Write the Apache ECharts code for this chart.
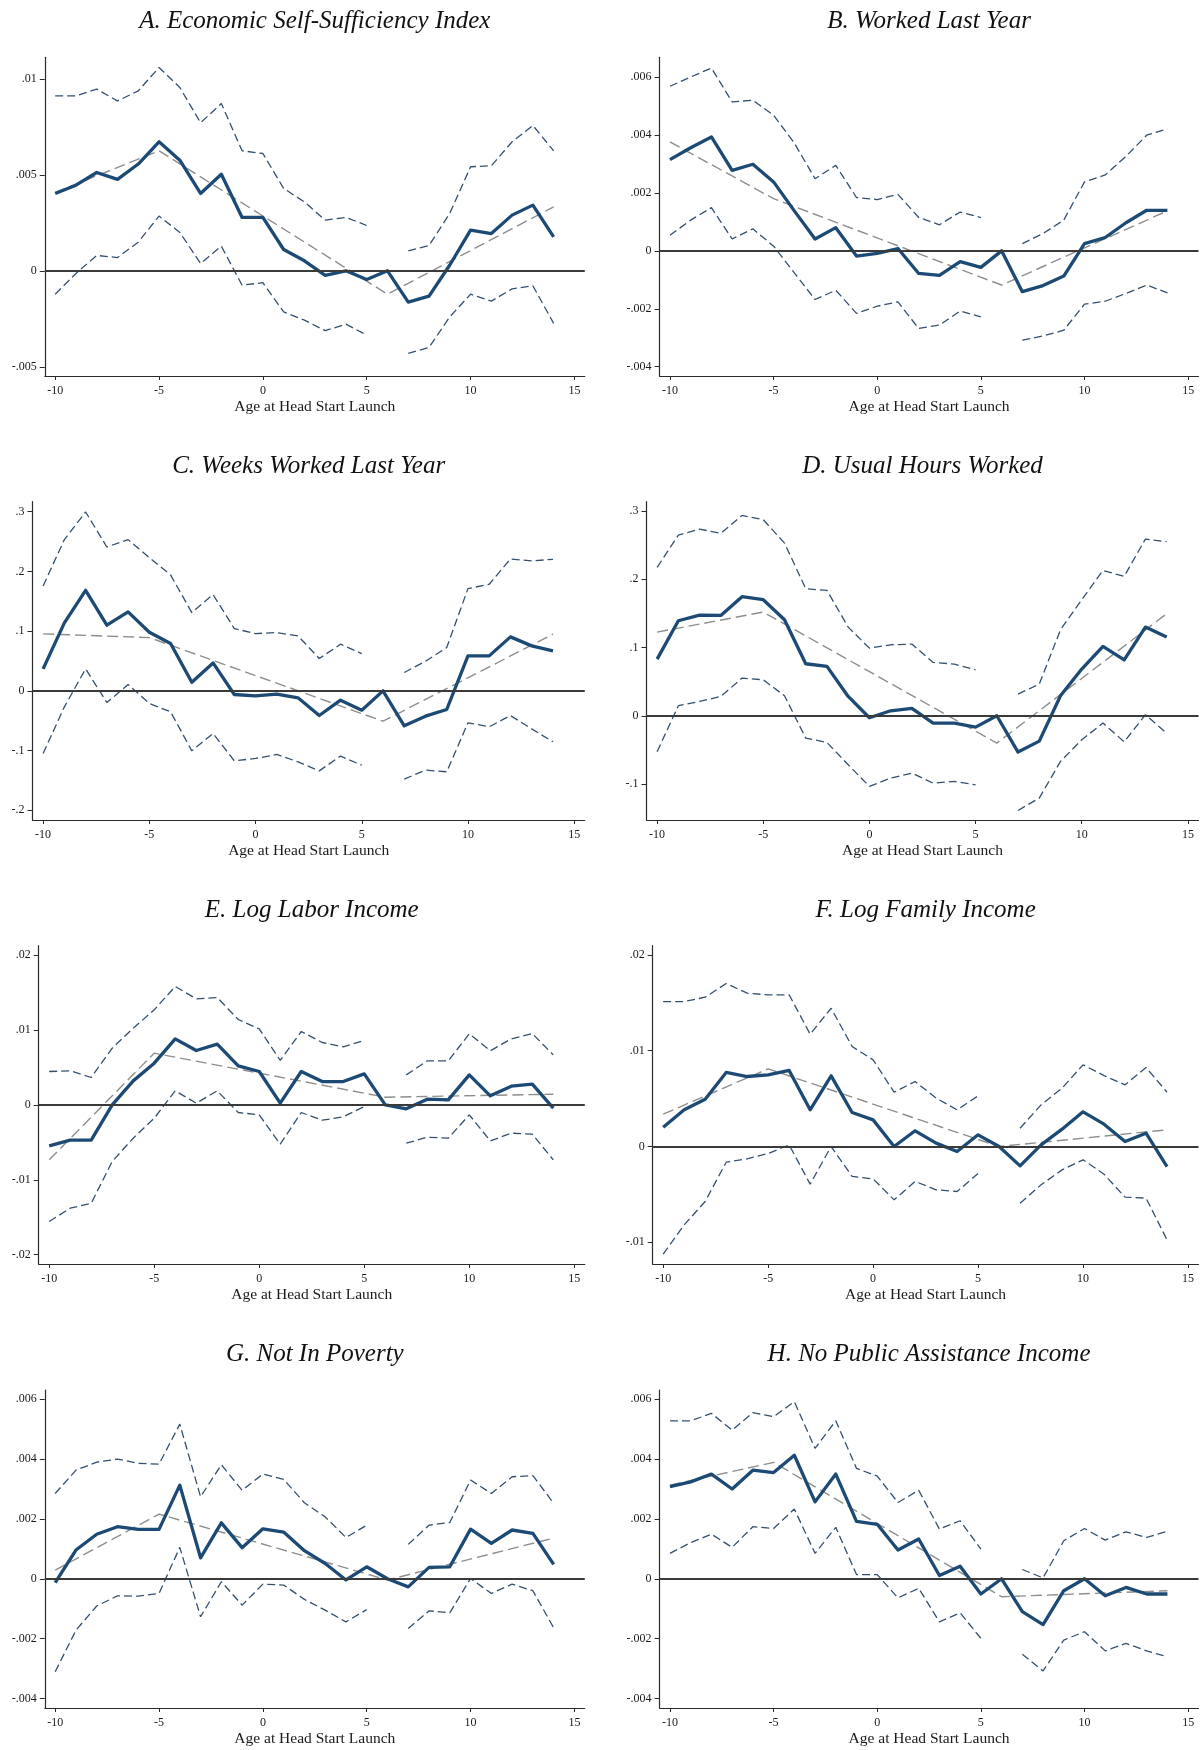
<!DOCTYPE html>
<html>
<head>
<meta charset="utf-8">
<script src="https://cdn.jsdelivr.net/npm/echarts@6.0.0/dist/echarts.min.js"></script>
<style>
  html, body { margin: 0; padding: 0; background: #ffffff; }
  #chart { width: 1203px; height: 1750px; }
</style>
</head>
<body>
<div id="chart"></div>
<script>
// Age at Head Start launch (event time); the estimate at 6 is the omitted reference year
const ages = [-10, -9, -8, -7, -6, -5, -4, -3, -2, -1, 0, 1, 2, 3, 4, 5, 6, 7, 8, 9, 10, 11, 12, 13, 14];
// Kink points of the fitted spline
const fitAges = [-10, -5, 6, 14];
const xTicks = [-10, -5, 0, 5, 10, 15];

// A. Economic Self-Sufficiency Index
const estA = [0.00403, 0.00446, 0.00512, 0.00476, 0.00556, 0.00672, 0.00576, 0.00403, 0.00503, 0.00278, 0.00278, 0.00111, 0.00052, -0.00024, 0.0, -0.00045, 0, -0.00163, -0.00132, 0.0003, 0.00212, 0.00194, 0.0029, 0.00342, 0.00177];
const hiA = [0.00911, 0.00911, 0.00946, 0.00885, 0.00937, 0.01059, 0.00955, 0.00771, 0.00871, 0.00625, 0.00611, 0.00429, 0.00359, 0.00264, 0.00278, 0.00236, null, 0.00104, 0.00132, 0.00299, 0.00542, 0.00547, 0.00672, 0.00757, 0.00625];
const loA = [-0.00122, -0.00014, 0.0008, 0.00069, 0.00149, 0.00285, 0.002, 0.00038, 0.00128, -0.00075, -0.00062, -0.00214, -0.00257, -0.00312, -0.00278, -0.00335, null, -0.0043, -0.00399, -0.0024, -0.00122, -0.00158, -0.00094, -0.00078, -0.00274];
const fitA = [0.00408, 0.00625, -0.00122, 0.00333];
const yTicksA = [-0.005, 0, 0.005, 0.01];

// B. Worked Last Year
const estB = [0.00315, 0.00356, 0.00393, 0.00278, 0.00299, 0.00238, 0.00138, 0.00041, 0.0008, -0.00018, -0.00009, 0.00008, -0.00078, -0.00085, -0.00037, -0.00057, 0, -0.00141, -0.0012, -0.00087, 0.00025, 0.00046, 0.00097, 0.0014, 0.0014];
const hiB = [0.00568, 0.006, 0.00631, 0.00514, 0.0052, 0.00468, 0.00372, 0.00249, 0.00295, 0.00184, 0.00177, 0.00195, 0.00115, 0.0009, 0.00134, 0.00115, null, 0.00025, 0.0006, 0.00106, 0.00238, 0.00262, 0.00326, 0.00399, 0.00421];
const loB = [0.00054, 0.00106, 0.00149, 0.00041, 0.00076, 0.00016, -0.00076, -0.00168, -0.00136, -0.00216, -0.00191, -0.00176, -0.00268, -0.00256, -0.00208, -0.00228, null, -0.00308, -0.00294, -0.00274, -0.00184, -0.00174, -0.00147, -0.00118, -0.00145];
const fitB = [0.00376, 0.0018, -0.00118, 0.00138];
const yTicksB = [-0.004, -0.002, 0, 0.002, 0.004, 0.006];

// C. Weeks Worked Last Year
const estC = [0.0368, 0.1138, 0.1684, 0.1099, 0.1322, 0.0982, 0.0792, 0.0145, 0.0468, -0.0061, -0.0084, -0.0056, -0.0117, -0.0413, -0.0156, -0.0323, 0, -0.0586, -0.0424, -0.0312, 0.0586, 0.0586, 0.0904, 0.0753, 0.0669];
const hiC = [0.1757, 0.2532, 0.2995, 0.2409, 0.2532, 0.2231, 0.1941, 0.1311, 0.1612, 0.1043, 0.0959, 0.0976, 0.092, 0.0541, 0.0781, 0.0625, null, 0.0307, 0.0496, 0.0725, 0.1712, 0.1785, 0.2209, 0.2175, 0.2203];
const loC = [-0.1049, -0.0268, 0.0368, -0.0195, 0.0106, -0.0212, -0.0351, -0.1004, -0.0714, -0.1171, -0.1132, -0.1065, -0.1188, -0.1339, -0.1093, -0.1244, null, -0.1478, -0.1327, -0.1355, -0.0535, -0.0602, -0.0413, -0.0636, -0.0853];
const fitC = [0.0954, 0.0892, -0.0508, 0.0948];
const yTicksC = [-0.2, -0.1, 0, 0.1, 0.2, 0.3];

// D. Usual Hours Worked
const estD = [0.083, 0.1392, 0.1475, 0.147, 0.1744, 0.17, 0.1407, 0.0762, 0.0723, 0.0283, -0.0029, 0.0073, 0.0107, -0.0107, -0.0107, -0.0166, 0, -0.0532, -0.0371, 0.0293, 0.0684, 0.1016, 0.082, 0.1299, 0.1153];
const hiD = [0.2173, 0.2647, 0.2735, 0.2672, 0.2935, 0.2872, 0.253, 0.1861, 0.1836, 0.1299, 0.0991, 0.104, 0.105, 0.0781, 0.0757, 0.0674, null, 0.0317, 0.0464, 0.126, 0.17, 0.2129, 0.2042, 0.2589, 0.255];
const loD = [-0.0527, 0.0147, 0.021, 0.0283, 0.0552, 0.0527, 0.0293, -0.0327, -0.0391, -0.0718, -0.1035, -0.0913, -0.084, -0.0987, -0.0962, -0.1011, null, -0.1387, -0.1206, -0.0669, -0.0352, -0.0107, -0.0381, 0.0015, -0.0254];
const fitD = [0.1226, 0.1519, -0.04, 0.1494];
const yTicksD = [-0.1, 0, 0.1, 0.2, 0.3];

// E. Log Labor Income
const estE = [-0.00547, -0.00472, -0.00472, 0, 0.0032, 0.00556, 0.00881, 0.00725, 0.0081, 0.00521, 0.00445, 0.00022, 0.00445, 0.00311, 0.00311, 0.00414, 0, -0.00053, 0.00076, 0.00067, 0.004, 0.0012, 0.00249, 0.00276, -0.00044];
const hiE = [0.00445, 0.00454, 0.00365, 0.00756, 0.01023, 0.01268, 0.0158, 0.01415, 0.01433, 0.01139, 0.01014, 0.00592, 0.00979, 0.00832, 0.00774, 0.00859, null, 0.004, 0.00587, 0.00587, 0.00948, 0.00721, 0.00881, 0.00952, 0.00667];
const loE = [-0.01557, -0.01379, -0.01313, -0.00756, -0.00445, -0.00178, 0.00187, 0.00022, 0.00187, -0.00102, -0.00133, -0.00525, -0.00102, -0.00205, -0.0016, -0.00022, null, -0.00512, -0.00432, -0.00445, -0.00133, -0.00481, -0.00378, -0.00392, -0.00734];
const fitE = [-0.00734, 0.0069, 0.00102, 0.00142];
const yTicksE = [-0.02, -0.01, 0, 0.01, 0.02];

// F. Log Family Income
const estF = [0.00202, 0.00383, 0.00494, 0.00773, 0.00731, 0.00748, 0.00794, 0.00383, 0.00738, 0.00355, 0.00278, 0, 0.00164, 0.00035, -0.00052, 0.00122, 0, -0.00202, 0.00017, 0.00181, 0.00362, 0.00233, 0.00052, 0.00139, -0.00209];
const hiF = [0.01514, 0.01514, 0.01559, 0.01702, 0.01601, 0.01584, 0.01584, 0.01173, 0.01444, 0.01044, 0.00905, 0.00567, 0.00679, 0.00505, 0.00383, 0.00529, null, 0.00191, 0.00435, 0.00609, 0.00853, 0.00741, 0.00644, 0.00825, 0.00567];
const loF = [-0.01124, -0.00818, -0.00574, -0.00164, -0.00129, -0.00073, 0.00017, -0.00393, 0, -0.00313, -0.00338, -0.00557, -0.00365, -0.00452, -0.0047, -0.00282, null, -0.00592, -0.004, -0.00244, -0.00139, -0.00289, -0.00529, -0.00539, -0.00974];
const fitF = [0.00338, 0.00811, 0.0, 0.00174];
const yTicksF = [-0.01, 0, 0.01, 0.02];

// G. Not In Poverty
const estG = [-0.00013, 0.00096, 0.00149, 0.00174, 0.00165, 0.00165, 0.00313, 0.0007, 0.00187, 0.00104, 0.00167, 0.00156, 0.00094, 0.00051, -0.00004, 0.0004, 0, -0.00027, 0.00038, 0.0004, 0.00166, 0.00118, 0.00163, 0.00152, 0.00048];
const hiG = [0.00285, 0.00363, 0.0039, 0.004, 0.00386, 0.00383, 0.00517, 0.00274, 0.00381, 0.00296, 0.0035, 0.00332, 0.00254, 0.00207, 0.00138, 0.00179, null, 0.00115, 0.00179, 0.00188, 0.0033, 0.00285, 0.00341, 0.00345, 0.00252];
const loG = [-0.00311, -0.00172, -0.00091, -0.00057, -0.00058, -0.00049, 0.00105, -0.00127, -0.0001, -0.00088, -0.00018, -0.00021, -0.00069, -0.00105, -0.00144, -0.00103, null, -0.00166, -0.00107, -0.00114, 0.00001, -0.00049, -0.00018, -0.0004, -0.00164];
const fitG = [0.00029, 0.00216, -0.00004, 0.00136];
const yTicksG = [-0.004, -0.002, 0, 0.002, 0.004, 0.006];

// H. No Public Assistance Income
const estH = [0.00308, 0.00324, 0.0035, 0.003, 0.00363, 0.00355, 0.00413, 0.00257, 0.0035, 0.00192, 0.00182, 0.00096, 0.00133, 0.00011, 0.00042, -0.00051, 0, -0.0011, -0.00153, -0.0004, 0, -0.00057, -0.00029, -0.00051, -0.00051];
const hiH = [0.00528, 0.00528, 0.00553, 0.00497, 0.00555, 0.00542, 0.00592, 0.00436, 0.00528, 0.00369, 0.00343, 0.00255, 0.00296, 0.00166, 0.00194, 0.00099, null, 0.00031, 0.00003, 0.00127, 0.00168, 0.00129, 0.00157, 0.00138, 0.00159];
const loH = [0.00085, 0.00121, 0.00149, 0.00105, 0.00174, 0.00168, 0.00233, 0.00085, 0.00172, 0.00014, 0.00014, -0.00064, -0.00032, -0.00144, -0.00114, -0.00199, null, -0.00252, -0.00308, -0.00205, -0.00177, -0.00241, -0.00216, -0.00241, -0.00261];
const fitH = [0.00313, 0.00389, -0.0006, -0.0004];
const yTicksH = [-0.004, -0.002, 0, 0.002, 0.004, 0.006];

const titles = [
  'A. Economic Self-Sufficiency Index', 'B. Worked Last Year',
  'C. Weeks Worked Last Year', 'D. Usual Hours Worked',
  'E. Log Labor Income', 'F. Log Family Income',
  'G. Not In Poverty', 'H. No Public Assistance Income'
];
const xTitle = 'Age at Head Start Launch';

// Panel layout: plot box [left, top, width, height] and value range of each y axis
const panels = [
  { est: estA, hi: hiA, lo: loA, fit: fitA, yTicks: yTicksA, yRange: [-0.00548, 0.01112], box: [44.8, 57.3, 540, 318.7] },
  { est: estB, hi: hiB, lo: loB, fit: fitB, yTicks: yTicksB, yRange: [-0.00432, 0.00668], box: [659.6, 57.3, 538.9, 318.7] },
  { est: estC, hi: hiC, lo: loC, fit: fitC, yTicks: yTicksC, yRange: [-0.2162, 0.3167], box: [32.5, 501.7, 552.3, 318.3] },
  { est: estD, hi: hiD, lo: loD, fit: fitD, yTicks: yTicksD, yRange: [-0.1527, 0.3136], box: [646.5, 501.7, 552, 318.3] },
  { est: estE, hi: hiE, lo: loE, fit: fitE, yTicks: yTicksE, yRange: [-0.02124, 0.02124], box: [38.7, 945.7, 546.1, 318.3] },
  { est: estF, hi: hiF, lo: loF, fit: fitF, yTicks: yTicksF, yRange: [-0.01227, 0.02097], box: [652.7, 945.7, 545.8, 318.3] },
  { est: estG, hi: hiG, lo: loG, fit: fitG, yTicks: yTicksG, yRange: [-0.00432, 0.00631], box: [44.8, 1390, 540, 318] },
  { est: estH, hi: hiH, lo: loH, fit: fitH, yTicks: yTicksH, yRange: [-0.00432, 0.00631], box: [659.6, 1390, 538.9, 318] }
];

const SERIF = '"Liberation Serif", "DejaVu Serif", serif';
const EST_COLOR = '#1c4a75';
const CI_COLOR = '#34506e';
const FIT_COLOR = '#8e8e8e';
const AXIS_COLOR = '#2a2a2a';

// Stata-style tick labels: drop the leading zero (".005", "-.1")
function stataLabel(v) {
  const s = String(+Number(v).toFixed(6));
  return s.replace(/^(-?)0\./, '$1.');
}

function pairs(xs, ys) {
  return xs.map((x, i) => [x, (ys[i] === null || ys[i] === undefined) ? '-' : ys[i]]);
}

const grid = [], xAxis = [], yAxis = [], series = [], title = [];

panels.forEach((p, i) => {
  const [left, top, width, height] = p.box;
  grid.push({ left: left, top: top, width: width, height: height, containLabel: false });

  title.push({
    text: titles[i],
    left: left + width / 2,
    top: top - 48,
    textAlign: 'center',
    padding: 0,
    textStyle: { fontFamily: SERIF, fontStyle: 'italic', fontWeight: 'normal', fontSize: 25, color: '#111111' }
  });

  xAxis.push({
    type: 'value', gridIndex: i, min: -10.5, max: 15.5,
    name: xTitle, nameLocation: 'middle', nameGap: 23,
    nameTextStyle: { fontFamily: SERIF, fontSize: 15.5, color: '#1a1a1a' },
    axisLine: { show: true, onZero: false, lineStyle: { color: AXIS_COLOR, width: 1.2 } },
    axisTick: { show: true, length: 4, customValues: xTicks, lineStyle: { color: AXIS_COLOR, width: 1 } },
    axisLabel: { customValues: xTicks, margin: 9, fontFamily: SERIF, fontSize: 12, color: '#1a1a1a', formatter: v => String(v) },
    splitLine: { show: false }
  });

  yAxis.push({
    type: 'value', gridIndex: i, min: p.yRange[0], max: p.yRange[1],
    axisLine: { show: true, onZero: false, lineStyle: { color: AXIS_COLOR, width: 1.2 } },
    axisTick: { show: true, length: 5, customValues: p.yTicks, lineStyle: { color: AXIS_COLOR, width: 1 } },
    axisLabel: { customValues: p.yTicks, margin: 8, fontFamily: SERIF, fontSize: 12, color: '#1a1a1a', formatter: stataLabel },
    splitLine: { show: false }
  });

  const common = { type: 'line', xAxisIndex: i, yAxisIndex: i, symbol: 'none', silent: true, connectNulls: false, animation: false };

  series.push(Object.assign({}, common, {
    name: 'upper' + i,
    data: pairs(ages, p.hi),
    lineStyle: { color: CI_COLOR, width: 1.3, type: [8, 4] },
    z: 2,
    markLine: {
      silent: true, symbol: 'none', animation: false,
      label: { show: false },
      lineStyle: { color: '#3a3a3a', width: 2, type: 'solid' },
      data: [{ yAxis: 0 }]
    }
  }));
  series.push(Object.assign({}, common, {
    name: 'lower' + i,
    data: pairs(ages, p.lo),
    lineStyle: { color: CI_COLOR, width: 1.3, type: [8, 4] },
    z: 2
  }));
  series.push(Object.assign({}, common, {
    name: 'fit' + i,
    data: pairs(fitAges, p.fit),
    lineStyle: { color: FIT_COLOR, width: 1.4, type: [11, 5] },
    z: 3
  }));
  series.push(Object.assign({}, common, {
    name: 'est' + i,
    data: pairs(ages, p.est),
    lineStyle: { color: EST_COLOR, width: 3.3, join: 'round' },
    z: 4
  }));
});

const chart = echarts.init(document.getElementById('chart'), null, { renderer: 'canvas' });
chart.setOption({
  backgroundColor: '#ffffff',
  animation: false,
  title: title,
  grid: grid,
  xAxis: xAxis,
  yAxis: yAxis,
  series: series
});
</script>
</body>
</html>
